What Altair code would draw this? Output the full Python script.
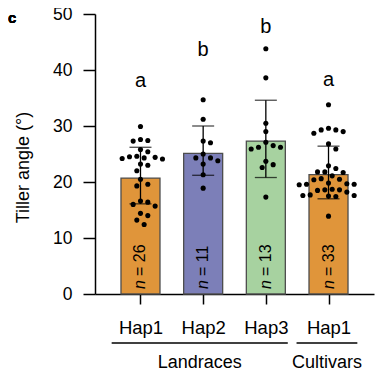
import altair as alt
import pandas as pd

# ---- data ----
groups = ["Hap1", "Hap2", "Hap3", "Hap1"]
colors = ["#E0953A", "#7C7FB8", "#A7D2A0", "#E0953A"]
means = [20.7, 25.1, 27.3, 21.3]
err_lo = [16.1, 21.2, 20.8, 17.0]
err_hi = [26.2, 30.0, 34.6, 26.4]
letters = ["a", "b", "b", "a"]
letter_y = [38.1, 43.5, 47.7, 38.2]
counts = ["= 26", "= 11", "= 13", "= 33"]

g1 = [29.9, 27.4, 27.3, 27.6, 25.8, 25.4, 24.6, 24.4, 24.3, 24.2, 24.1, 24.5, 23.2,
      23.0, 22.0, 20.5, 19.3, 19.6, 16.6, 16.4, 16.0, 15.7, 14.4, 14.0, 13.2, 12.4]
g2 = [34.7, 31.2, 27.0, 27.3, 24.3, 25.0, 23.8, 24.3, 23.2, 21.3, 18.9]
g3 = [43.8, 38.6, 30.5, 29.0, 26.5, 26.2, 27.1, 25.9, 26.2, 23.1, 22.6, 23.7, 17.3]
g4 = [33.8, 29.3, 28.7, 29.6, 29.3, 29.0, 26.8, 25.9, 22.9, 22.4, 21.8, 21.7, 21.8,
      21.1, 20.5, 20.4, 20.6, 19.6, 19.7, 19.5, 19.6, 19.8, 18.6, 18.7, 18.5, 18.6,
      17.6, 17.5, 17.7, 17.6, 17.4, 13.9, 18.2]
points = [g1, g2, g3, g4]

super_groups = ["Landraces", "Cultivars"]
super_start = [0.54, 3.49]
super_end = [3.35, 4.46]

# ---- layout ----
W, H = 279, 280
XMIN, XMAX = 0.354, 4.646
PX_PER_CAT = W / (XMAX - XMIN)
PX_PER_UNIT = H / 50.0
FONT = "Liberation Sans"


def swarm(vals, d=7.0, step=3.8):
    placed = []
    out = [0.0] * len(vals)
    order = sorted(range(len(vals)), key=lambda i: -vals[i])
    cands = [0.0] + [s * j * step for j in range(1, 12) for s in (1, -1)]
    for i in order:
        y = vals[i] * PX_PER_UNIT
        for c in cands:
            if all((c - px) ** 2 + (y - py) ** 2 >= d * d for px, py in placed):
                break
        placed.append((c, y))
        out[i] = c
    return out


bar_df = pd.DataFrame({
    "gx": [1, 2, 3, 4], "mean": means, "lo": err_lo, "hi": err_hi,
    "color": colors, "letter": letters, "ly": letter_y, "cnt": counts,
})

rows = []
for gi, vals in enumerate(points):
    offs = swarm(vals)
    for v, o in zip(vals, offs):
        rows.append({"px": gi + 1 + o / PX_PER_CAT, "v": v})
pt_df = pd.DataFrame(rows)

sg_df = pd.DataFrame({"name": super_groups, "s": super_start, "e": super_end})
sg_df["c"] = (sg_df["s"] + sg_df["e"]) / 2

xscale = alt.Scale(domain=[XMIN, XMAX], nice=False, zero=False)
yscale = alt.Scale(domain=[0, 50], nice=False)

label_expr = "datum.value == 1 ? 'Hap1' : datum.value == 2 ? 'Hap2' : datum.value == 3 ? 'Hap3' : 'Hap1'"

x_axis = alt.Axis(values=[1, 2, 3, 4], labelExpr=label_expr, title=None,
                  grid=False, domainColor="black", domainWidth=1.5,
                  tickColor="black", tickWidth=1.5, tickSize=10,
                  labelFont=FONT, labelFontSize=18.5, labelColor="black",
                  labelPadding=14)
y_axis = alt.Axis(values=[0, 10, 20, 30, 40, 50], title="Tiller angle (°)",
                  grid=False, domainColor="black", domainWidth=1.5,
                  tickColor="black", tickWidth=1.5, tickSize=12,
                  labelFont=FONT, labelFontSize=17.5, labelColor="black",
                  labelPadding=11, titleFont=FONT, titleFontSize=18,
                  titleFontWeight="normal", titleColor="black",
                  titleX=-72, titleY=153, titleAngle=-90,
                  titleAlign="center", titleBaseline="middle")

base = alt.Chart(bar_df)

bars = base.mark_bar(size=39, stroke="#4d4d4d", strokeWidth=1.3).encode(
    x=alt.X("gx:Q", scale=xscale, axis=x_axis),
    y=alt.Y("mean:Q", scale=yscale, axis=y_axis),
    color=alt.Color("color:N", scale=None),
)

dots = alt.Chart(pt_df).mark_circle(size=26, color="black", opacity=1).encode(
    x=alt.X("px:Q", scale=xscale),
    y=alt.Y("v:Q", scale=yscale),
)

err_v = base.mark_rule(color="black", strokeWidth=1.3).encode(
    x=alt.X("gx:Q", scale=xscale), y=alt.Y("lo:Q", scale=yscale), y2="hi:Q")
cap_hi = base.mark_tick(color="black", orient="horizontal", size=22, thickness=1.3).encode(
    x=alt.X("gx:Q", scale=xscale), y=alt.Y("hi:Q", scale=yscale))
cap_lo = base.mark_tick(color="black", orient="horizontal", size=22, thickness=1.3).encode(
    x=alt.X("gx:Q", scale=xscale), y=alt.Y("lo:Q", scale=yscale))

n_it = base.mark_text(text="n", angle=270, align="left", baseline="middle",
                      fontStyle="italic", font=FONT, fontSize=16,
                      color="black").encode(
    x=alt.X("gx:Q", scale=xscale), y=alt.value(H - 5))
n_txt = base.mark_text(angle=270, align="left", baseline="middle", dx=13,
                       font=FONT, fontSize=16, color="black").encode(
    x=alt.X("gx:Q", scale=xscale), y=alt.value(H - 5), text="cnt:N")

let_txt = base.mark_text(baseline="middle", font=FONT, fontSize=20,
                         color="black").encode(
    x=alt.X("gx:Q", scale=xscale), y=alt.Y("ly:Q", scale=yscale), text="letter:N")

sg_line = alt.Chart(sg_df).mark_rule(color="black", strokeWidth=1.3).encode(
    x=alt.X("s:Q", scale=xscale), x2="e:Q", y=alt.value(H + 49))
sg_txt = alt.Chart(sg_df).mark_text(baseline="middle", font=FONT,
                                    fontSize=18, color="black").encode(
    x=alt.X("c:Q", scale=xscale), y=alt.value(H + 69), text="name:N")

panel = alt.Chart(bar_df).mark_text(text="c", align="left", baseline="middle",
                                    font=FONT, fontSize=15,
                                    fontWeight="bold", color="black").encode(
    x=alt.value(-87), y=alt.value(4))

chart = alt.layer(bars, dots, err_v, cap_hi, cap_lo, n_it, n_txt, let_txt,
                  sg_line, sg_txt, panel).properties(
    width=W, height=H,
    autosize=alt.AutoSizeParams(type="none"),
    padding={"left": 87, "top": 6, "right": 5, "bottom": 80},
).configure_view(stroke=None).configure_axis(grid=False)

chart.save("out.html", embed_options={"renderer": "svg", "actions": False})
